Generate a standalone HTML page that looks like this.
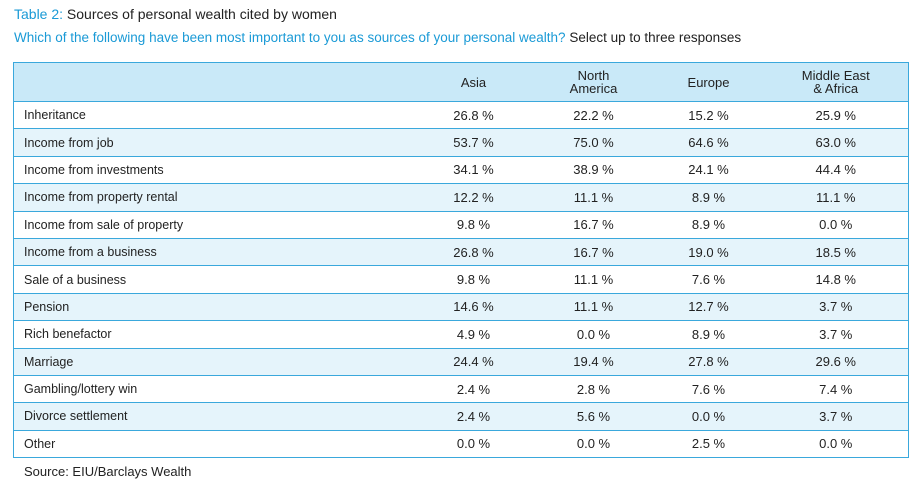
<!DOCTYPE html>
<html><head><meta charset="utf-8"><style>
body{margin:0;width:924px;height:483px;background:#fff;font-family:"Liberation Sans",sans-serif;color:#222;position:relative;overflow:hidden}
.t{position:absolute;left:14px;top:6px;font-size:14px;white-space:nowrap}
.q{position:absolute;left:14px;top:30px;font-size:13.5px;white-space:nowrap;color:#1a9ad6}
.blue{color:#1a9ad6}
table{position:absolute;left:13px;top:62px;width:896px;border-collapse:collapse;font-size:13px}
td,th{border-top:1.5px solid #3aa8dc;border-bottom:1.5px solid #3aa8dc;height:26.4px;padding:0;font-weight:normal}
table{border-left:1.5px solid #3aa8dc;border-right:1.5px solid #3aa8dc}
th{height:38px;background:#c9e9f8;line-height:13px}
td:first-child{padding-left:10px;text-align:left;font-size:12.5px}
td{text-align:center}
tr.alt td{background:#e5f4fb}
.s{position:absolute;left:24px;top:464px;font-size:13px}
</style></head><body>
<div class="t"><span class="blue">Table 2:</span> Sources of personal wealth cited by women</div>
<div class="q">Which of the following have been most important to you as sources of your personal wealth? <span style="color:#222">Select up to three responses</span></div>
<table>
<colgroup><col style="width:400px"><col style="width:120px"><col style="width:120px"><col style="width:110px"><col></colgroup>
<thead><tr><th></th><th>Asia</th><th>North<br>America</th><th>Europe</th><th>Middle East<br>&amp; Africa</th></tr></thead>
<tbody id="tb"></tbody></table>
<div class="s">Source: EIU/Barclays Wealth</div>
<script>
const categories=["Inheritance","Income from job","Income from investments","Income from property rental","Income from sale of property","Income from a business","Sale of a business","Pension","Rich benefactor","Marriage","Gambling/lottery win","Divorce settlement","Other"];
const asia=[26.8,53.7,34.1,12.2,9.8,26.8,9.8,14.6,4.9,24.4,2.4,2.4,0.0];
const northAmerica=[22.2,75.0,38.9,11.1,16.7,16.7,11.1,11.1,0.0,19.4,2.8,5.6,0.0];
const europe=[15.2,64.6,24.1,8.9,8.9,19.0,7.6,12.7,8.9,27.8,7.6,0.0,2.5];
const mea=[25.9,63.0,44.4,11.1,0.0,18.5,14.8,3.7,3.7,29.6,7.4,3.7,0.0];
const tb=document.getElementById('tb');
categories.forEach((c,i)=>{
  const tr=document.createElement('tr');
  
  
  if(i%2===1)tr.className='alt';
  const cells=[c].concat([asia[i],northAmerica[i],europe[i],mea[i]].map(v=>v.toFixed(1)+' %'));
  cells.forEach((v,j)=>{
    const td=document.createElement('td');
    
    
    td.textContent=v;tr.appendChild(td);
  });
  tb.appendChild(tr);
});
</script>
</body></html>
